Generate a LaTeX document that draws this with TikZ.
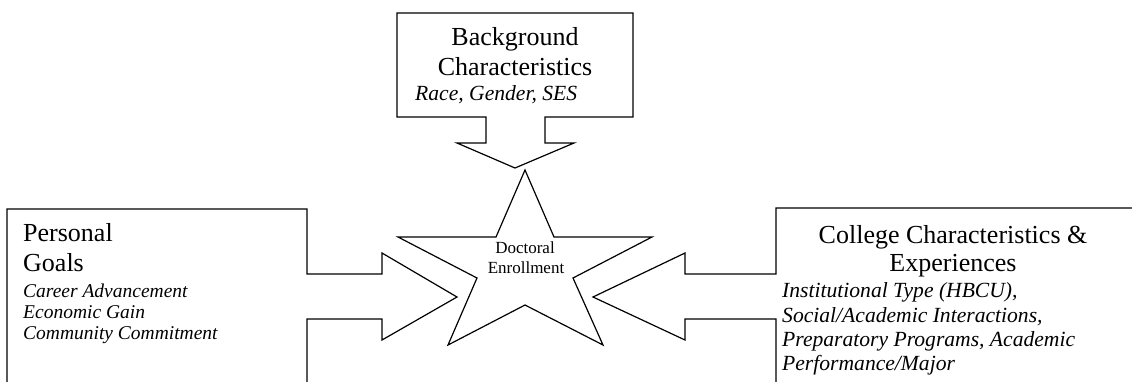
\documentclass[tikz,border=0pt]{standalone}
\usepackage{fontspec}
\setmainfont{Liberation Serif}
\begin{document}
\begin{tikzpicture}[x=1pt,y=-1pt,
  shapeline/.style={draw=black,line width=1.2pt,line join=miter,fill=white},
  openline/.style={draw=black,line width=1.2pt,line join=miter},
  bigtxt/.style={inner sep=0pt,font=\fontsize{26}{30}\selectfont},
  ittxt/.style={inner sep=0pt,font=\fontsize{21.6}{24}\selectfont\itshape},
  itsmall/.style={inner sep=0pt,font=\fontsize{19.5}{21}\selectfont\itshape},
  startxt/.style={inner sep=0pt,font=\fontsize{17}{20}\selectfont}]
\clip (0,0) rectangle (1132,381);
\fill[white] (0,0) rectangle (1132,381);
% top callout
\draw[shapeline] (397,13) -- (633,13) -- (633,117) -- (545,117) -- (545,143) -- (574,143)
  -- (515,168) -- (457,143) -- (486,143) -- (486,117) -- (397,117) -- cycle;
% left callout
\draw[openline] (7,400) -- (7,209) -- (307,209) -- (307,274) -- (382,274) -- (382,253)
  -- (457,297) -- (382,340) -- (382,319) -- (307,319) -- (307,400);
% right callout
\draw[openline] (1140,208) -- (776,208) -- (776,274) -- (685,274) -- (685,253)
  -- (593,297) -- (685,340) -- (685,319) -- (776,319) -- (776,400);
% star
\draw[shapeline] (525,170) -- (554,237) -- (652,237) -- (573,278) -- (603,345)
  -- (525,305) -- (448,345) -- (477,278) -- (398,237) -- (496,237) -- cycle;
% texts
\node[bigtxt,anchor=base] (bg1) at (515,45) {Background};
\node[bigtxt,anchor=base] (bg2) at (515,75) {Characteristics};
\node[ittxt,anchor=base west] (bg3) at (415,100) {Race, Gender, SES};
\node[bigtxt,anchor=base west] (pg1) at (23,241) {Personal};
\node[bigtxt,anchor=base west] (pg2) at (23,271) {Goals};
\node[itsmall,anchor=base west] (pg3) at (23,297) {Career Advancement};
\node[itsmall,anchor=base west] (pg4) at (23,318) {Economic Gain};
\node[itsmall,anchor=base west] (pg5) at (23,339) {Community Commitment};
\node[bigtxt,anchor=base] (cc1) at (953,243) {College Characteristics \&};
\node[bigtxt,anchor=base] (cc2) at (953,271) {Experiences};
\node[ittxt,anchor=base west] (cc3) at (782,297) {Institutional Type (HBCU),};
\node[ittxt,anchor=base west] (cc4) at (782,322) {Social/Academic Interactions,};
\node[ittxt,anchor=base west] (cc5) at (782,346) {Preparatory Programs, Academic};
\node[ittxt,anchor=base west] (cc6) at (782,370) {Performance/Major};
\node[startxt,anchor=base] (de1) at (525,253) {Doctoral};
\node[startxt,anchor=base] (de2) at (526,273) {Enrollment};
\end{tikzpicture}
\end{document}
